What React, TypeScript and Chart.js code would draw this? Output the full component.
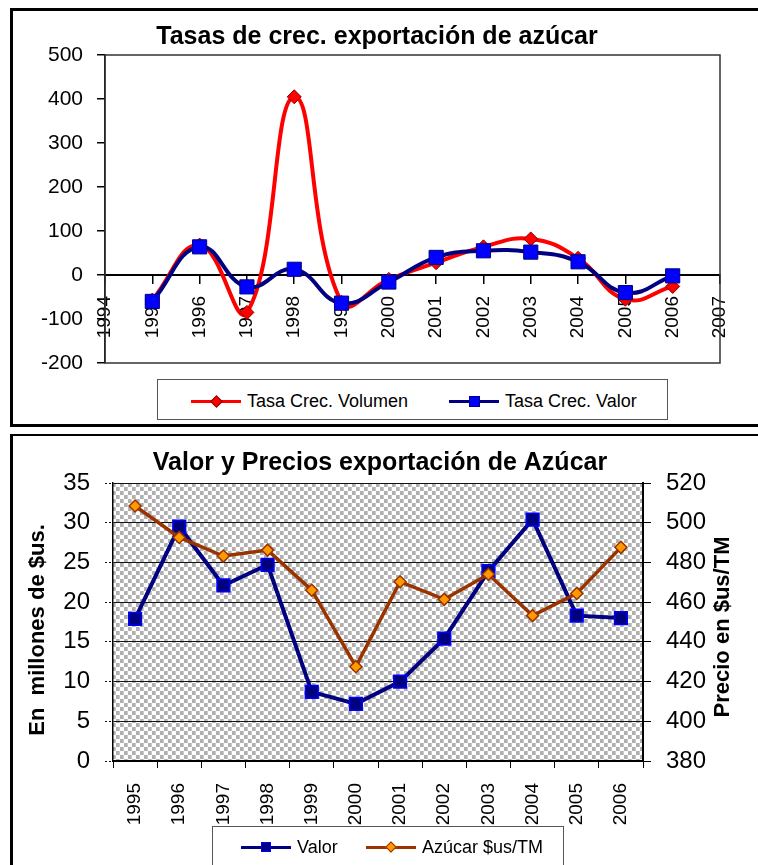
import React, { useEffect, useRef } from "react";
import { Chart, registerables } from "chart.js";

Chart.register(...registerables);

const FONT = "'Liberation Sans', Arial, Helvetica, sans-serif";

// ---- Top chart data: growth rates ----
const growthTitle = "Tasas de crec. exportación de azúcar";
const growthYears = [1995, 1996, 1997, 1998, 1999, 2000, 2001, 2002, 2003, 2004, 2005, 2006];
const volumeGrowth = [-57, 68, -85, 405, -62, -10, 28, 64, 82, 38, -55, -26];
const valueGrowth = [-60, 64, -27, 13, -64, -16, 40, 55, 52, 30, -40, -2];
const growthXRange = [1994, 2007];
const growthYRange = [-200, 500];
const growthYStep = 100;
const growthLabels = ["Tasa Crec. Volumen", "Tasa Crec. Valor"];

// ---- Bottom chart data: value and price ----
const exportTitle = "Valor y Precios exportación de Azúcar";
const exportYears = ["1995", "1996", "1997", "1998", "1999", "2000", "2001", "2002", "2003", "2004", "2005", "2006"];
const exportValue = [17.9, 29.5, 22.1, 24.7, 8.7, 7.2, 10.0, 15.4, 23.9, 30.4, 18.3, 18.0];
const sugarPrice = [508.4, 492.6, 483.2, 486.2, 466.0, 427.5, 470.3, 461.4, 474.0, 453.2, 464.4, 487.6];
const valueAxisRange = [0, 35];
const valueAxisStep = 5;
const priceAxisRange = [380, 520];
const priceAxisStep = 20;
const exportLabels = ["Valor", "Azúcar $us/TM"];
const valueAxisTitle = "En  millones de $us.";
const priceAxisTitle = "Precio en $us/TM";

function GrowthChart() {
  const ref = useRef<HTMLCanvasElement | null>(null);
  useEffect(() => {
    if (!ref.current) return;
    const plotFrame = {
      id: "plotFrame",
      beforeDatasetsDraw(chart: any) {
        const { ctx, chartArea: a } = chart;
        ctx.save();
        ctx.strokeStyle = "#333";
        ctx.lineWidth = 1.5;
        ctx.strokeRect(a.left, a.top, a.right - a.left, a.bottom - a.top);
        ctx.restore();
      },
    };
    const chart = new Chart(ref.current, {
      type: "line",
      data: {
        datasets: [
          {
            label: growthLabels[0],
            data: growthYears.map((yr, i) => ({ x: yr, y: volumeGrowth[i] })),
            borderColor: "#FF0000",
            borderWidth: 4,
            tension: 0.45,
            pointStyle: "rectRot",
            pointRadius: 7,
            pointBackgroundColor: "#FF0000",
            pointBorderColor: "#8B0000",
            pointBorderWidth: 1,
            order: 1,
          },
          {
            label: growthLabels[1],
            data: growthYears.map((yr, i) => ({ x: yr, y: valueGrowth[i] })),
            borderColor: "#000080",
            borderWidth: 4,
            tension: 0.45,
            pointStyle: "rect",
            pointRadius: 10,
            pointBackgroundColor: "#0000FF",
            pointBorderColor: "#000080",
            pointBorderWidth: 1,
            order: 0,
          },
        ],
      },
      options: {
        responsive: false,
        animation: false,
        events: [],
        layout: { padding: { left: 34, right: 38, top: 0, bottom: 67 } },
        plugins: {
          legend: { display: false },
          tooltip: { enabled: false },
          title: {
            display: true,
            text: growthTitle,
            color: "#000",
            font: { family: FONT, size: 25, weight: "bold" },
            padding: { top: 22, bottom: 3 },
          },
        },
        scales: {
          x: {
            type: "linear",
            position: { y: 0 },
            min: growthXRange[0],
            max: growthXRange[1],
            ticks: {
              stepSize: 1,
              autoSkip: false,
              maxRotation: 90,
              minRotation: 90,
              padding: 13,
              color: "#000",
              font: { family: FONT, size: 19 },
              callback: (v: any) => String(v),
            },
            grid: { drawOnChartArea: false, drawTicks: true, tickLength: 8, color: "#000", lineWidth: 1.5 },
            border: { color: "#000", width: 2 },
          },
          y: {
            min: growthYRange[0],
            max: growthYRange[1],
            ticks: {
              stepSize: growthYStep,
              padding: 14,
              color: "#000",
              font: { family: FONT, size: 21 },
            },
            grid: { drawOnChartArea: false, tickLength: 8, color: "#000", lineWidth: 1.5 },
            border: { color: "#000", width: 1.5 },
            afterFit: (s: any) => {
              s.width = 71;
            },
          },
        },
      } as any,
      plugins: [plotFrame],
    });
    return () => chart.destroy();
  }, []);
  return (
    <canvas
      ref={ref}
      width={758}
      height={430}
      style={{ position: "absolute", left: 0, top: 0, width: 758, height: 430 }}
    />
  );
}

function makePattern(): CanvasPattern | string {
  const tile = document.createElement("canvas");
  tile.width = 8;
  tile.height = 8;
  const t = tile.getContext("2d");
  if (!t) return "#d8d8d8";
  t.fillStyle = "#ffffff";
  t.fillRect(0, 0, 8, 8);
  t.fillStyle = "#b0b0b0";
  t.fillRect(0, 0, 4, 4);
  t.fillRect(4, 4, 4, 4);
  t.fillStyle = "#c8c8c8";
  t.fillRect(3, 0, 1, 4);
  t.fillRect(7, 4, 1, 4);
  const p = t.createPattern(tile, "repeat");
  return p || "#d8d8d8";
}

function ExportChart() {
  const ref = useRef<HTMLCanvasElement | null>(null);
  useEffect(() => {
    if (!ref.current) return;
    const pattern = makePattern();
    const background = {
      id: "plotBackground",
      beforeDraw(chart: any) {
        const { ctx, chartArea: a } = chart;
        ctx.save();
        ctx.fillStyle = pattern;
        ctx.fillRect(a.left, a.top, a.right - a.left, a.bottom - a.top);
        ctx.restore();
      },
    };
    const axisTitles = {
      id: "axisTitles",
      afterDraw(chart: any) {
        const { ctx, chartArea: a } = chart;
        const cy = (a.top + a.bottom) / 2 + 8;
        ctx.save();
        ctx.fillStyle = "#000";
        ctx.font = `bold 22px ${FONT}`;
        ctx.textAlign = "center";
        ctx.textBaseline = "middle";
        ctx.translate(a.left - 75, cy);
        ctx.rotate(-Math.PI / 2);
        ctx.fillText(valueAxisTitle, 0, 0);
        ctx.restore();
        ctx.save();
        ctx.fillStyle = "#000";
        ctx.font = `bold 22px ${FONT}`;
        ctx.textAlign = "center";
        ctx.textBaseline = "middle";
        ctx.translate(a.right + 80, cy - 3);
        ctx.rotate(-Math.PI / 2);
        ctx.fillText(priceAxisTitle, 0, 0);
        ctx.restore();
      },
    };
    const chart = new Chart(ref.current, {
      type: "line",
      data: {
        labels: exportYears,
        datasets: [
          {
            label: exportLabels[0],
            data: exportValue,
            yAxisID: "y",
            borderColor: "#000080",
            borderWidth: 4,
            tension: 0,
            pointStyle: "rect",
            pointRadius: 9,
            pointBackgroundColor: "#000080",
            pointBorderColor: "#0000FF",
            pointBorderWidth: 1.5,
            order: 1,
          },
          {
            label: exportLabels[1],
            data: sugarPrice,
            yAxisID: "y1",
            borderColor: "#993300",
            borderWidth: 3.5,
            tension: 0,
            pointStyle: "rectRot",
            pointRadius: 6,
            pointBackgroundColor: "#FF9900",
            pointBorderColor: "#993300",
            pointBorderWidth: 1.5,
            order: 0,
          },
        ],
      },
      options: {
        responsive: false,
        animation: false,
        events: [],
        layout: { padding: { left: 17, right: 15, top: 0, bottom: 34 } },
        plugins: {
          legend: { display: false },
          tooltip: { enabled: false },
          title: {
            display: true,
            text: exportTitle,
            color: "#000",
            font: { family: FONT, size: 25, weight: "bold" },
            padding: { top: 13, bottom: 5 },
          },
        },
        scales: {
          x: {
            type: "category",
            offset: true,
            ticks: {
              autoSkip: false,
              maxRotation: 90,
              minRotation: 90,
              padding: 15,
              color: "#000",
              font: { family: FONT, size: 19 },
            },
            grid: { offset: true, drawOnChartArea: false, tickLength: 7, color: "#000", lineWidth: 1 },
            border: { color: "#000", width: 2 },
            afterFit: (s: any) => {
              s.height = 70;
            },
          },
          y: {
            position: "left",
            min: valueAxisRange[0],
            max: valueAxisRange[1],
            ticks: {
              stepSize: valueAxisStep,
              padding: 15,
              color: "#000",
              font: { family: FONT, size: 24 },
            },
            grid: {
              drawOnChartArea: true,
              tickLength: 8,
              color: "#111",
              lineWidth: 1,
              borderDash: [2, 2],
              tickBorderDash: [2, 2],
            },
            border: { color: "#000", width: 1.5, dash: [] },
            afterFit: (s: any) => {
              s.width = 96;
            },
          },
          y1: {
            position: "right",
            min: priceAxisRange[0],
            max: priceAxisRange[1],
            ticks: {
              stepSize: priceAxisStep,
              padding: 15,
              color: "#000",
              font: { family: FONT, size: 24 },
            },
            grid: { drawOnChartArea: false, tickLength: 8, color: "#000", lineWidth: 1 },
            border: { color: "#000", width: 2 },
            afterFit: (s: any) => {
              s.width = 100;
            },
          },
        },
      } as any,
      plugins: [background, axisTitles],
    });
    return () => chart.destroy();
  }, []);
  return (
    <canvas
      ref={ref}
      width={758}
      height={430}
      style={{ position: "absolute", left: 0, top: 435, width: 758, height: 430 }}
    />
  );
}

type Marker = { shape: "diamond" | "square"; fill: string; stroke: string; size: number };

function LegendItem(props: { left: number; top: number; color: string; lineWidth: number; marker: Marker; label: string }) {
  const { left, top, color, lineWidth, marker, label } = props;
  const markerStyle: React.CSSProperties = {
    position: "absolute",
    left: 25 - marker.size / 2,
    top: lineWidth / 2 - marker.size / 2,
    width: marker.size,
    height: marker.size,
    boxSizing: "border-box",
    background: marker.fill,
    border: `1px solid ${marker.stroke}`,
    transform: marker.shape === "diamond" ? "rotate(45deg)" : undefined,
  };
  return (
    <div
      style={{
        position: "absolute",
        left,
        top: top - 12,
        height: 24,
        display: "flex",
        alignItems: "center",
        whiteSpace: "nowrap",
      }}
    >
      <div style={{ position: "relative", width: 50, height: lineWidth, background: color }}>
        <div style={markerStyle} />
      </div>
      <span style={{ marginLeft: 6, fontSize: 18, color: "#000", lineHeight: "24px" }}>{label}</span>
    </div>
  );
}

export default function App() {
  return (
    <div
      style={{
        position: "absolute",
        left: 0,
        top: 0,
        width: 758,
        height: 865,
        overflow: "hidden",
        background: "#fff",
        fontFamily: FONT,
      }}
    >
      <GrowthChart />
      <ExportChart />
      {/* chart frames */}
      <div
        style={{
          position: "absolute",
          left: 10,
          top: 8,
          width: 770,
          height: 419,
          boxSizing: "border-box",
          border: "3px solid #000",
        }}
      />
      <div
        style={{
          position: "absolute",
          left: 10,
          top: 434,
          width: 770,
          height: 500,
          boxSizing: "border-box",
          border: "3px solid #000",
          borderTopWidth: 2.5,
        }}
      />
      {/* top legend */}
      <div
        style={{
          position: "absolute",
          left: 157,
          top: 379,
          width: 511,
          height: 41,
          boxSizing: "border-box",
          border: "1px solid #555",
          background: "#fff",
        }}
      >
        <LegendItem
          left={33}
          top={21}
          color="#FF0000"
          lineWidth={3}
          marker={{ shape: "diamond", fill: "#FF0000", stroke: "#8B0000", size: 9 }}
          label={growthLabels[0]}
        />
        <LegendItem
          left={291}
          top={21}
          color="#000080"
          lineWidth={3}
          marker={{ shape: "square", fill: "#0000FF", stroke: "#000080", size: 11 }}
          label={growthLabels[1]}
        />
      </div>
      {/* bottom legend */}
      <div
        style={{
          position: "absolute",
          left: 212,
          top: 826,
          width: 352,
          height: 60,
          boxSizing: "border-box",
          border: "1px solid #555",
          background: "#fff",
        }}
      >
        <LegendItem
          left={28}
          top={20}
          color="#000080"
          lineWidth={3}
          marker={{ shape: "square", fill: "#000080", stroke: "#0000FF", size: 10 }}
          label={exportLabels[0]}
        />
        <LegendItem
          left={153}
          top={20}
          color="#993300"
          lineWidth={3}
          marker={{ shape: "diamond", fill: "#FF9900", stroke: "#993300", size: 8 }}
          label={exportLabels[1]}
        />
      </div>
    </div>
  );
}
